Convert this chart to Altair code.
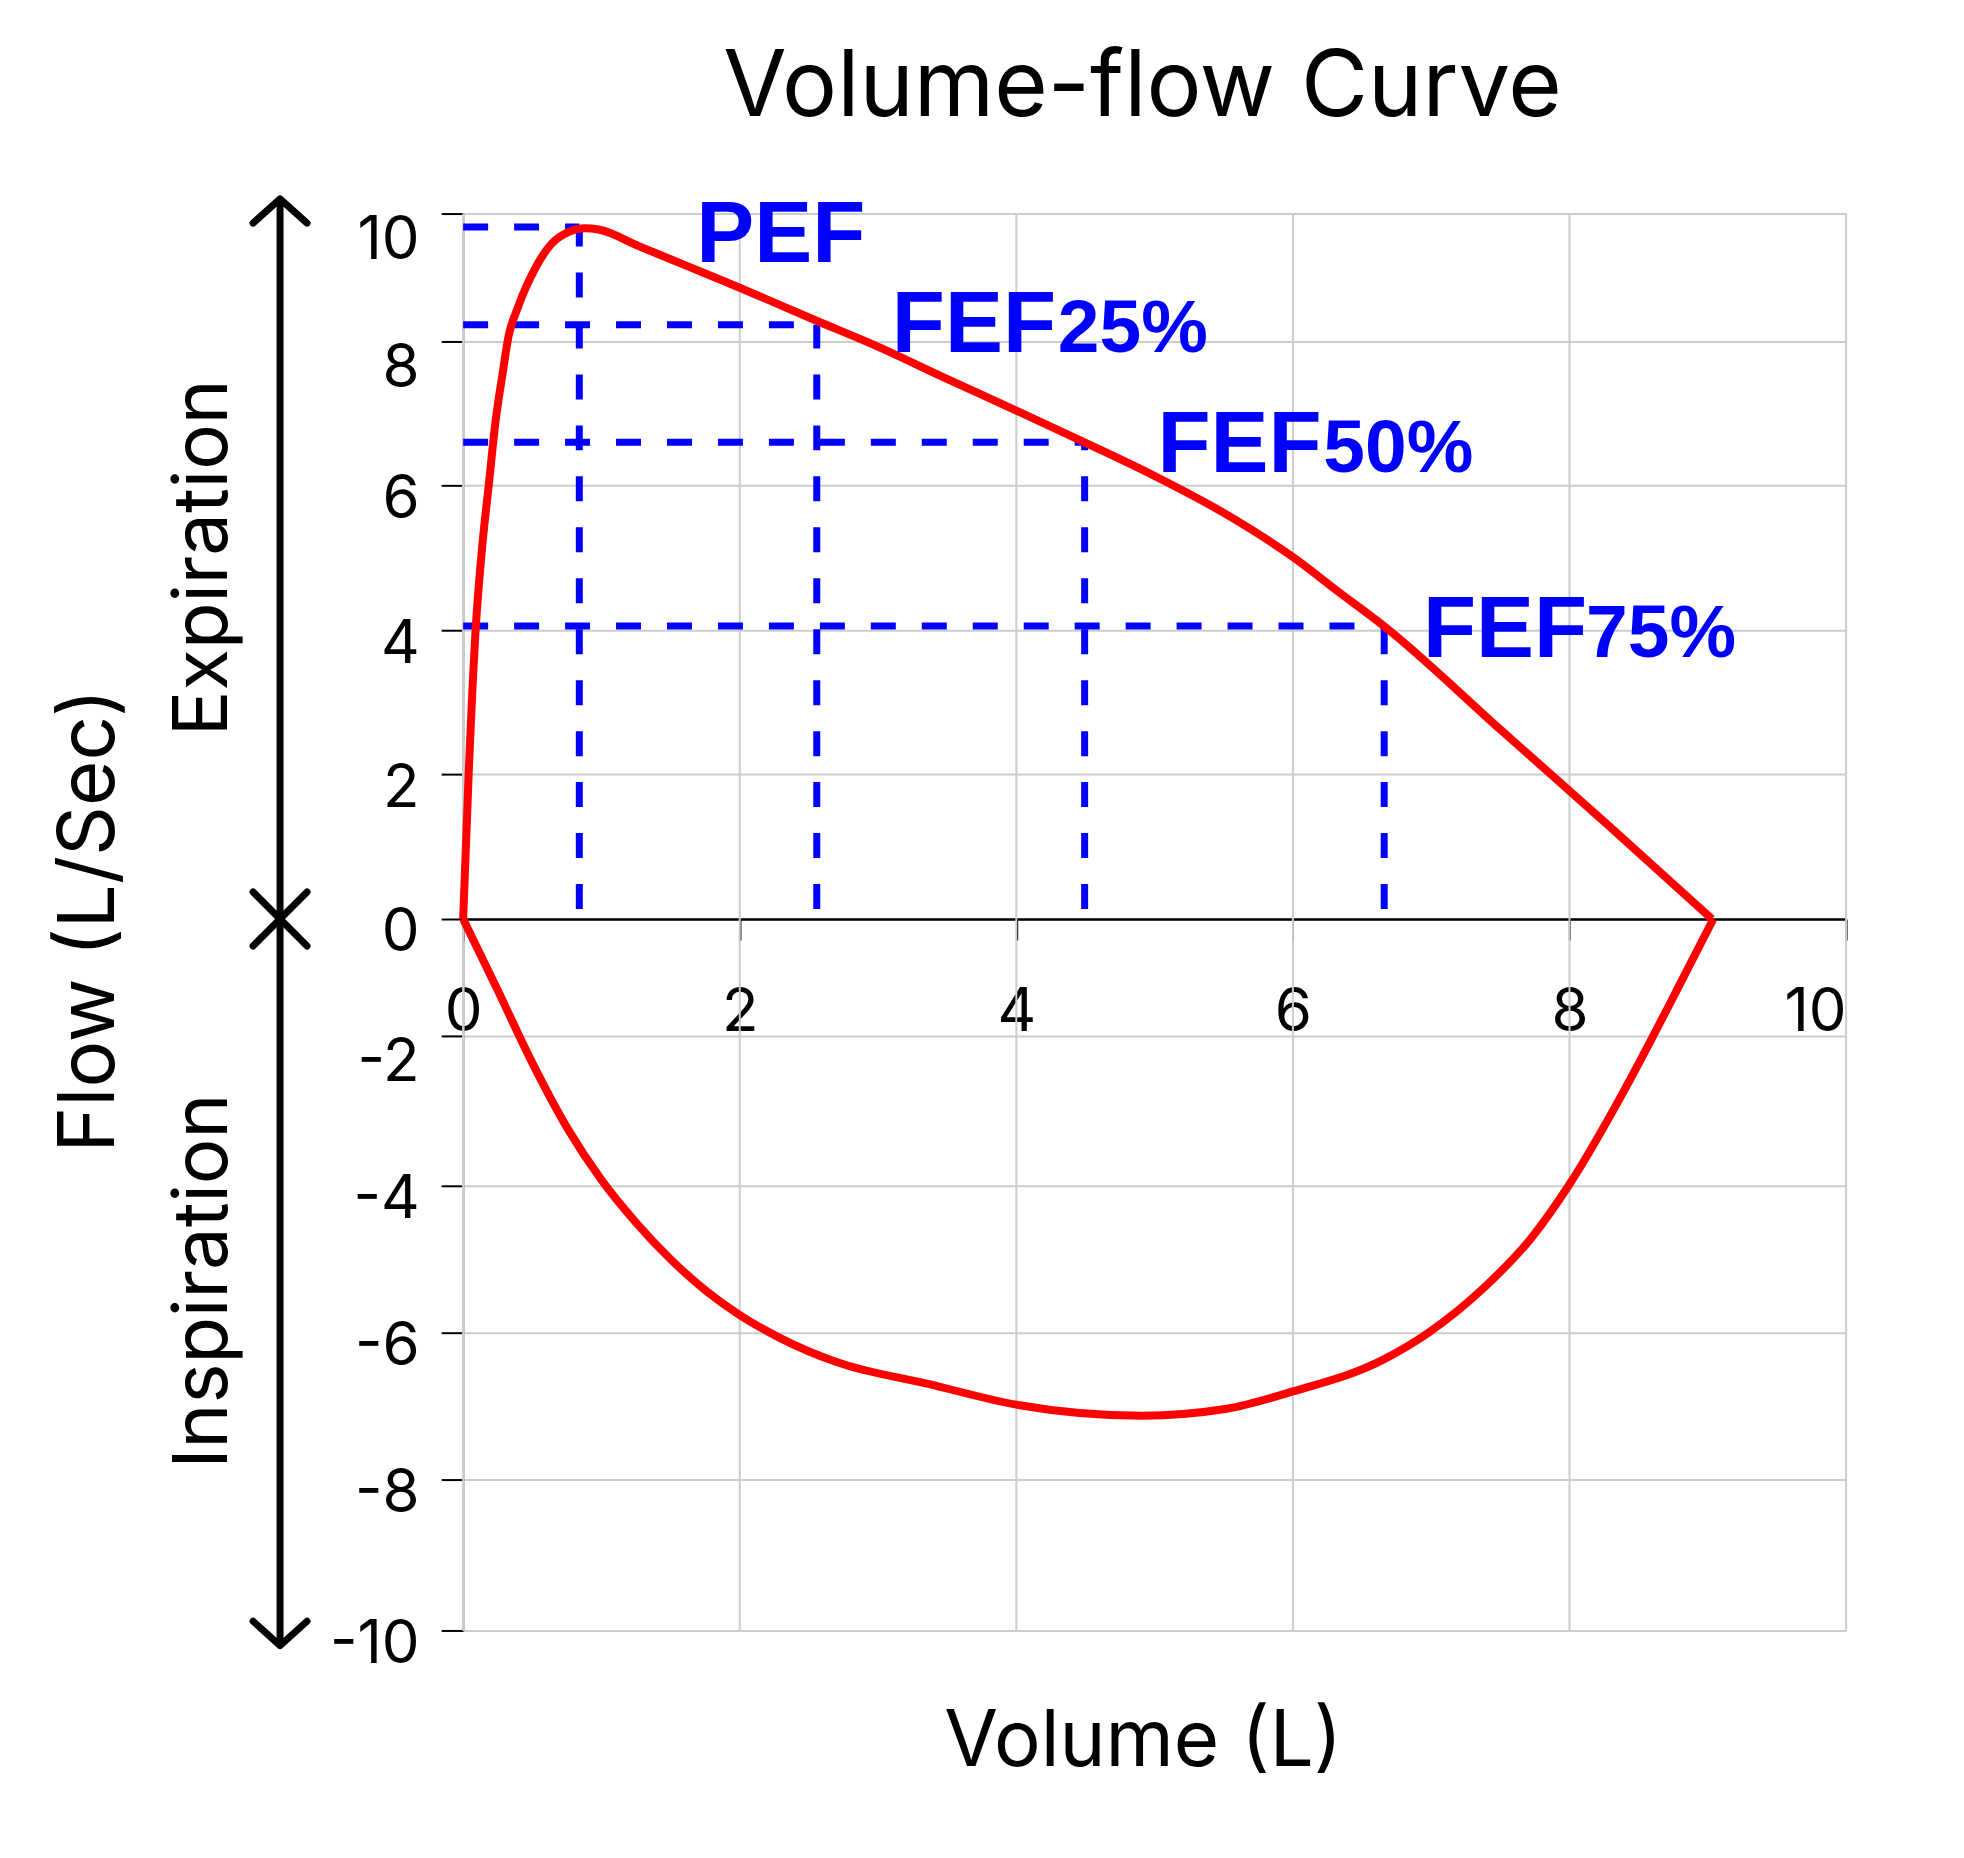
import altair as alt
import pandas as pd

# ---------------- data ----------------
title_text = "Volume-flow Curve"
x_title = "Volume (L)"
y_title = "Flow (L/Sec)"

x_ticks = [0, 2, 4, 6, 8, 10]
y_ticks = [-10, -8, -6, -4, -2, 0, 2, 4, 6, 8, 10]

# expiratory limb (volume in L, flow in L/s)
exp_volume = [0.0, 0.04, 0.09, 0.14, 0.185, 0.235, 0.285, 0.33, 0.39,
              0.52, 0.64, 0.76, 0.88, 0.98, 1.27, 1.63, 2.0, 2.56, 2.95, 3.51, 4.0,
              4.49, 5.0, 5.5, 6.0, 6.33, 6.67, 7.5, 8.3, 9.03]
exp_flow = [0.0, 2.0, 4.0, 5.2, 6.0, 6.9, 7.55, 8.1, 8.5,
            9.14, 9.53, 9.71, 9.77, 9.75, 9.49, 9.17, 8.84, 8.32, 7.97, 7.47, 7.04,
            6.60, 6.13, 5.62, 5.01, 4.53, 4.04, 2.62, 1.26, 0.0]

# inspiratory limb
insp_volume = [0.0, 0.25, 0.5, 0.75, 1.0, 1.25, 1.5, 1.75, 2.0, 2.3, 2.7, 3.37,
               4.0, 4.91, 5.51, 6.0, 6.65, 6.98, 7.38, 7.72, 8.0, 8.32, 8.58, 8.78, 9.04]
insp_flow = [0.0, -1.22, -2.36, -3.22, -3.92, -4.50, -5.0, -5.42, -5.76, -6.08, -6.40, -6.70,
             -6.98, -7.13, -7.04, -6.80, -6.37, -6.0, -5.39, -4.72, -3.98, -2.98, -2.09, -1.20, 0.0]

# PEF / FEF markers
marker_volume = [0.84, 2.557, 4.494, 6.66]
marker_flow = [9.79, 8.26, 6.60, 4.06]

# marker labels
label_main = ["PEF", "FEF", "FEF", "FEF"]
label_main_volume = [1.685, 3.10, 5.02, 6.94]
label_flow = [9.25, 7.86, 6.18, 3.63]
label_sub = ["25%", "50%", "75%"]
label_sub_volume = [4.30, 6.22, 8.12]
label_sub_flow = [7.86, 6.18, 3.63]

# side annotations (left of the plot)
side_text = ["Expiration", "Inspiration"]
side_volume = [-1.706, -1.706]
side_flow = [5.0, -5.3]
arrow_volume = [-1.324]
arrow_top = [10.23]
arrow_bottom = [-10.2]
arrow_mid = [0.0]

# title position (data units)
title_volume = [4.913]
title_flow = [11.53]

# ---------------- scales / axes ----------------
# the reference's y grid is not evenly spaced: piecewise scale through its tick positions
y_range_px = [1418, 1267, 1120, 973, 823, 706, 561, 417, 272, 128, 0]
x_scale = alt.Scale(domain=[0, 10], nice=False, zero=False)
y_scale = alt.Scale(domain=y_ticks, range=y_range_px, nice=False, zero=False)

x_axis = alt.Axis(
    values=x_ticks, orient="bottom", offset=-712,
    domain=True, domainColor="black", domainWidth=2.5,
    ticks=True, tickColor="black", tickSize=21, tickWidth=2,
    labelFont="Inter", labelFontSize=60, labelColor="black", labelPadding=44,
    labelAlign={"condition": {"test": "datum.value == 10", "value": "right"}, "value": "center"},
    labelOverlap=False, labelFlush=False, labelExpr="'' + datum.value",
    grid=False,
    title=x_title, titleFont="Inter", titleFontSize=78, titleFontWeight="normal",
    titleColor="black", titleX=680, titleY=847, titleBaseline="alphabetic", titleAlign="center",
)
y_axis = alt.Axis(
    values=y_ticks, orient="left",
    domain=True, domainColor="#aaaaaa", domainWidth=2,
    ticks=True, tickColor="black", tickSize=22, tickWidth=2,
    labelFont="Inter", labelFontSize=60, labelColor="black", labelPadding=22,
    labelBaseline="middle",
    labelOffset={"condition": {"test": "datum.value == 10 || datum.value == 8 || datum.value == -2",
                               "value": 27}, "value": 14},
    labelOverlap=False, labelExpr="'' + datum.value",
    grid=True, gridColor="#cccccc", gridWidth=2,
    title=y_title, titleFont="Inter", titleFontSize=78, titleFontWeight="normal",
    titleColor="black", titleAngle=270, titleX=-350, titleY=707,
    titleBaseline="alphabetic", titleAlign="center",
)


def X(f):
    return alt.X(f, type="quantitative", scale=x_scale, axis=x_axis)


def Y(f):
    return alt.Y(f, type="quantitative", scale=y_scale, axis=y_axis)


# ---------------- data frames ----------------
exp_df = pd.DataFrame({"volume": exp_volume, "flow": exp_flow, "idx": range(len(exp_volume))})
insp_df = pd.DataFrame({"volume": insp_volume, "flow": insp_flow, "idx": range(len(insp_volume))})

grid_df = pd.DataFrame({"volume": x_ticks, "flow": [-10] * len(x_ticks), "flow_end": [10] * len(x_ticks)})

marker_df = pd.DataFrame({"volume": marker_volume, "flow": marker_flow,
                          "volume_start": [0] * 4, "flow_base": [0] * 4})

main_lab_df = pd.DataFrame({"volume": label_main_volume, "flow": label_flow, "label": label_main})
sub_lab_df = pd.DataFrame({"volume": label_sub_volume, "flow": label_sub_flow, "label": label_sub})
side_df = pd.DataFrame({"volume": side_volume, "flow": side_flow, "label": side_text})
arrow_df = pd.DataFrame({"volume": arrow_volume, "flow": arrow_top, "flow_end": arrow_bottom})
top_head_df = pd.DataFrame({"volume": arrow_volume, "flow": arrow_top})
bot_head_df = pd.DataFrame({"volume": arrow_volume, "flow": arrow_bottom})
cross_df = pd.DataFrame({"volume": arrow_volume, "flow": arrow_mid})
title_df = pd.DataFrame({"volume": title_volume, "flow": title_flow, "label": [title_text]})

BLUE = "#0000ff"
RED = "#ff0000"

# ---------------- layers ----------------
grid_layer = alt.Chart(grid_df).mark_rule(color="#cccccc", strokeWidth=2).encode(
    x=X("volume"), y=Y("flow"), y2=alt.Y2("flow_end"))

h_dash = alt.Chart(marker_df).mark_rule(color=BLUE, strokeWidth=7, strokeDash=[25, 26]).encode(
    x=X("volume_start"), x2=alt.X2("volume"), y=Y("flow"))

v_dash = alt.Chart(marker_df).mark_rule(color=BLUE, strokeWidth=7, strokeDash=[25, 26],
                                        strokeDashOffset=41).encode(
    x=X("volume"), y=Y("flow_base"), y2=alt.Y2("flow"))

exp_curve = alt.Chart(exp_df).mark_line(color=RED, strokeWidth=8, interpolate="monotone",
                                        strokeJoin="round").encode(
    x=X("volume"), y=Y("flow"), order="idx:Q")

insp_curve = alt.Chart(insp_df).mark_line(color=RED, strokeWidth=8, interpolate="monotone",
                                          strokeJoin="round").encode(
    x=X("volume"), y=Y("flow"), order="idx:Q")

main_labels = alt.Chart(main_lab_df).mark_text(
    font="Liberation Sans", fontSize=87, fontWeight="bold", color=BLUE,
    align="left", baseline="alphabetic").encode(x=X("volume"), y=Y("flow"), text="label:N")

sub_labels = alt.Chart(sub_lab_df).mark_text(
    font="Liberation Sans", fontSize=75, fontWeight="bold", color=BLUE,
    align="left", baseline="alphabetic").encode(x=X("volume"), y=Y("flow"), text="label:N")

side_labels = alt.Chart(side_df).mark_text(
    font="Inter", fontSize=76, color="black", angle=270,
    align="center", baseline="alphabetic").encode(x=X("volume"), y=Y("flow"), text="label:N")

shaft = alt.Chart(arrow_df).mark_rule(color="black", strokeWidth=7).encode(
    x=X("volume"), y=Y("flow"), y2=alt.Y2("flow_end"))

top_head = alt.Chart(top_head_df).mark_point(
    shape="M-1,0.9L0,0L1,0.9", size=2916, filled=False, color="black",
    strokeWidth=7, strokeCap="round", strokeJoin="round", opacity=1).encode(x=X("volume"), y=Y("flow"))

bot_head = alt.Chart(bot_head_df).mark_point(
    shape="M-1,-0.9L0,0L1,-0.9", size=2916, filled=False, color="black",
    strokeWidth=7, strokeCap="round", strokeJoin="round", opacity=1).encode(x=X("volume"), y=Y("flow"))

cross = alt.Chart(cross_df).mark_point(
    shape="M-1,-1L1,1M-1,1L1,-1", size=2916, filled=False, color="black",
    strokeWidth=7, strokeCap="round", opacity=1).encode(x=X("volume"), y=Y("flow"))

title_layer = alt.Chart(title_df).mark_text(
    font="Inter", fontSize=92, color="black", align="center", baseline="alphabetic").encode(
    x=X("volume"), y=Y("flow"), text="label:N")

chart = alt.layer(
    grid_layer, h_dash, v_dash, exp_curve, insp_curve, main_labels, sub_labels,
    side_labels, shaft, top_head, bot_head, cross, title_layer,
).properties(
    width=1384, height=1418,
    autosize=alt.AutoSizeParams(type="none"),
    padding={"left": 455.5, "top": 205, "right": 110, "bottom": 210},
    background="white",
).configure_view(stroke=None)

chart.save("out.html", embed_options={"renderer": "svg", "actions": False})
